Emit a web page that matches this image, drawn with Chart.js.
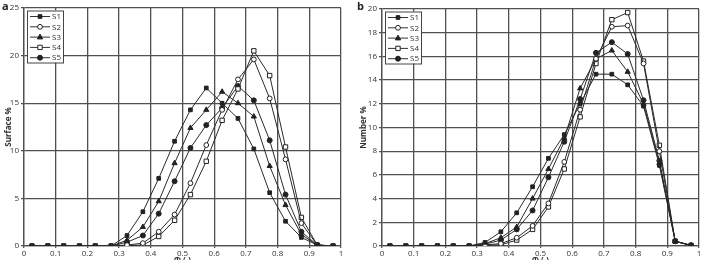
<!DOCTYPE html>
<html>
<head>
<meta charset="utf-8">
<script src="https://cdn.jsdelivr.net/npm/chart.js@4.4.0/dist/chart.umd.min.js"></script>
<style>
  html, body { margin: 0; padding: 0; background: #fff; width: 705px; height: 260px; overflow: hidden; }
  .panel { position: absolute; top: 0; width: 350px; height: 270px; }
  .tag { position: absolute; top: -2px; font: bold 11px "Open Sans", sans-serif; color: #222; }
</style>
</head>
<body>
<div class="panel" style="left:0"><canvas id="chartA" width="350" height="270"></canvas></div>
<div class="panel" style="left:355px"><canvas id="chartB" width="350" height="270"></canvas></div>
<div class="tag" style="left:2px">a</div>
<div class="tag" style="left:357px">b</div>
<script>
// bin centres (phi)
const phi = [0.025, 0.075, 0.125, 0.175, 0.225, 0.275, 0.325, 0.375, 0.425, 0.475,
             0.525, 0.575, 0.625, 0.675, 0.725, 0.775, 0.825, 0.875, 0.925, 0.975];
const seriesNames = ['S1', 'S2', 'S3', 'S4', 'S5'];

// panel a: Surface %
const surfS1 = [0, 0, 0, 0, 0, 0, 1.1, 3.6, 7.1, 11.0, 14.3, 16.6, 15.0, 13.4, 10.2, 5.6, 2.6, 0.9, 0.1, 0];
const surfS2 = [0, 0, 0, 0, 0, 0, 0.1, 0.3, 1.5, 3.3, 6.6, 10.6, 14.3, 17.5, 19.6, 15.5, 9.1, 2.4, 0.1, 0];
const surfS3 = [0, 0, 0, 0, 0, 0, 0.6, 2.0, 4.7, 8.7, 12.4, 14.3, 16.2, 15.0, 13.6, 8.4, 4.3, 1.2, 0.1, 0];
const surfS4 = [0, 0, 0, 0, 0, 0, 0.05, 0.1, 1.0, 2.7, 5.4, 8.9, 13.2, 16.5, 20.5, 17.9, 10.4, 3.0, 0.1, 0];
const surfS5 = [0, 0, 0, 0, 0, 0, 0.4, 1.1, 3.4, 6.8, 10.3, 12.7, 14.5, 16.8, 15.3, 11.1, 5.4, 1.5, 0.1, 0];

// panel b: Number %
const numS1 = [0, 0, 0, 0, 0, 0, 0.3, 1.2, 2.8, 5.0, 7.4, 9.4, 12.0, 14.5, 14.5, 13.6, 11.8, 6.8, 0.4, 0.05];
const numS2 = [0, 0, 0, 0, 0, 0, 0.1, 0.2, 0.7, 1.7, 3.6, 7.1, 11.5, 15.8, 18.5, 18.6, 15.4, 8.0, 0.4, 0.05];
const numS3 = [0, 0, 0, 0, 0, 0, 0.2, 0.7, 1.6, 4.0, 6.5, 9.1, 13.3, 15.8, 16.5, 14.7, 12.0, 7.0, 0.4, 0.05];
const numS4 = [0, 0, 0, 0, 0, 0, 0.05, 0.1, 0.5, 1.4, 3.3, 6.5, 10.9, 15.4, 19.1, 19.7, 15.6, 8.5, 0.4, 0.05];
const numS5 = [0, 0, 0, 0, 0, 0, 0.15, 0.5, 1.4, 3.0, 5.8, 8.8, 12.4, 16.3, 17.2, 16.2, 12.3, 7.2, 0.4, 0.05];

// marker per series
const markers = [
  { style: 'rect', radius: 2.6, fill: '#222' },
  { style: 'circle', radius: 2.4, fill: '#fff' },
  { style: 'triangle', radius: 3, fill: '#222' },
  { style: 'rect', radius: 3.1, fill: '#fff' },
  { style: 'circle', radius: 2.5, fill: '#222' }
];

const FONT = '"Open Sans", sans-serif';
const GRID = '#505050';

function makeDatasets(values) {
  return values.map((vals, i) => ({
    label: seriesNames[i],
    data: vals.map((v, j) => ({ x: phi[j], y: v })),
    borderColor: '#2a2a2a',
    borderWidth: 1,
    pointStyle: markers[i].style,
    pointRadius: markers[i].radius,
    pointBackgroundColor: markers[i].fill,
    pointBorderColor: '#222',
    pointBorderWidth: 1,
    tension: 0
  }));
}

// draw a marker by hand for the legend
function drawMarker(ctx, m, x, y) {
  ctx.beginPath();
  if (m.style === 'rect') {
    const s = m.radius * Math.SQRT1_2;
    ctx.rect(x - s, y - s, 2 * s, 2 * s);
  } else if (m.style === 'triangle') {
    const r = m.radius;
    ctx.moveTo(x, y - r);
    ctx.lineTo(x + r * 0.9, y + r * 0.6);
    ctx.lineTo(x - r * 0.9, y + r * 0.6);
    ctx.closePath();
  } else {
    ctx.arc(x, y, m.radius, 0, Math.PI * 2);
  }
  ctx.fillStyle = m.fill;
  ctx.fill();
  ctx.strokeStyle = '#222';
  ctx.lineWidth = 1;
  ctx.stroke();
}

// boxed legend in the top-left corner of the plot
const boxLegend = {
  id: 'boxLegend',
  afterDraw(chart, args, opts) {
    const { ctx, chartArea } = chart;
    const x = chartArea.left + opts.dx, y = chartArea.top + opts.dy;
    ctx.save();
    ctx.fillStyle = '#fff';
    ctx.fillRect(x, y, 36, 52);
    ctx.strokeStyle = '#444';
    ctx.lineWidth = 1;
    ctx.strokeRect(x + 0.5, y + 0.5, 36, 52);
    chart.data.datasets.forEach((ds, i) => {
      const ly = y + 6 + i * 10.3;
      ctx.beginPath();
      ctx.moveTo(x + 3, ly);
      ctx.lineTo(x + 23, ly);
      ctx.strokeStyle = '#333';
      ctx.stroke();
      drawMarker(ctx, markers[i], x + 13, ly);
      ctx.fillStyle = '#333';
      ctx.font = '8px ' + FONT;
      ctx.textBaseline = 'middle';
      ctx.fillText(ds.label, x + 25, ly + 0.5);
    });
    ctx.restore();
  }
};

function makeChart(id, values, yMax, yStep, yTitle, yWidth, pad) {
  return new Chart(document.getElementById(id), {
    type: 'line',
    data: { datasets: makeDatasets(values) },
    plugins: [boxLegend],
    options: {
      responsive: false,
      animation: false,
      layout: { padding: pad },
      plugins: {
        legend: { display: false },
        tooltip: { enabled: false },
        boxLegend: { dx: 3, dy: 2.5 }
      },
      scales: {
        x: {
          type: 'linear', min: 0, max: 1,
          afterFit: s => { s.height = 24; },
          ticks: {
            stepSize: 0.1, padding: 1, color: '#333',
            font: { family: FONT, size: 8 },
            maxRotation: 0,
            callback: v => String(+v.toFixed(1))
          },
          grid: { color: GRID, lineWidth: 1.3, tickLength: 2 },
          border: { color: GRID, width: 1.3 },
          title: { display: true, text: 'Φ (-)', color: '#333', font: { family: FONT, size: 8, weight: 'bold' }, padding: { top: 0 } }
        },
        y: {
          min: 0, max: yMax,
          afterFit: s => { s.width = yWidth; },
          ticks: { stepSize: yStep, padding: 2, color: '#333', font: { family: FONT, size: 8 } },
          grid: { color: GRID, lineWidth: 1.3, tickLength: 3 },
          border: { color: GRID, width: 1.3 },
          title: { display: true, text: yTitle, color: '#333', font: { family: FONT, size: 8, weight: 'bold' }, padding: { top: 4, bottom: 2 } }
        }
      }
    }
  });
}

makeChart('chartA', [surfS1, surfS2, surfS3, surfS4, surfS5], 25, 5, 'Surface %', 24,
  { top: 8, right: 9, left: 0, bottom: 0 });
makeChart('chartB', [numS1, numS2, numS3, numS4, numS5], 20, 2, 'Number %', 27,
  { top: 9, right: 6, left: 0, bottom: 0 });
</script>
</body>
</html>
